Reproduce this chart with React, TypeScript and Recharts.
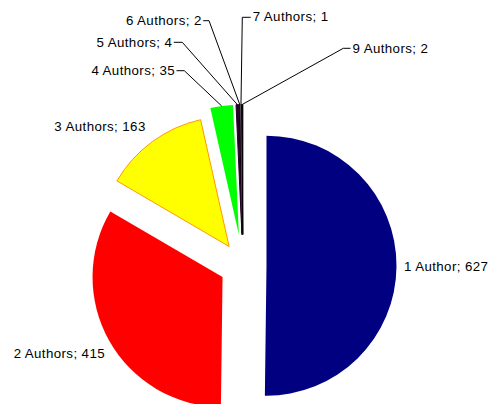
import React from 'react';
import { PieChart, Pie, Cell, Sector } from 'recharts';

const CATEGORIES = ['1 Author', '2 Authors', '3 Authors', '4 Authors', '5 Authors', '6 Authors', '7 Authors', '9 Authors'];
const VALUES = [627, 415, 163, 35, 4, 2, 1, 2];

const COLORS = ['#000080', '#ff0000', '#ffff00', '#00ff00', '#240026', '#140014', '#808080', '#000000'];
const STROKES = ['none', 'none', '#ff9900', 'none', '#240026', '#140014', '#808080', '#000000'];
const STROKE_WIDTHS = [1, 1, 1, 1, 1, 1, 0.5, 1];
// explode distance of each slice (px)
const EXPLODE = [23.5, 23.5, 23.5, 31, 31, 31, 31, 31];
// label placement relative to pie centre (text anchor point + optional leader knee)
const LABEL_LAYOUT = [
  { tx: 161, ty: 5.2, anchor: 'start' },
  { tx: -138, ty: 92.8, anchor: 'end' },
  { tx: -97.3, ty: -134.8, anchor: 'end' },
  { tx: -68, ty: -190.5, anchor: 'end', kx: -58.7, ky: -194.8 },
  { tx: -70.7, ty: -218.8, anchor: 'end', kx: -60.7, ky: -223.2 },
  { tx: -41.3, ty: -240.2, anchor: 'end', kx: -34, ky: -244.8 },
  { tx: 9.7, ty: -244.3, anchor: 'start', kx: -0.7, ky: -248.2 },
  { tx: 109.5, ty: -212.5, anchor: 'start', kx: 100.3, ky: -217.2 },
];

const data = CATEGORIES.map((name, i) => ({ name, value: VALUES[i] }));

const RADIAN = Math.PI / 180;
const CX = 243;
const CY = 265.5;
const R = 130;

const renderSlice = (props: any) => {
  const { cx, cy, midAngle, index } = props;
  const d = EXPLODE[index] ?? 0;
  const ox = cx + d * Math.cos(-midAngle * RADIAN);
  const oy = cy + d * Math.sin(-midAngle * RADIAN);
  return <Sector {...props} cx={ox} cy={oy} />;
};

const renderLabel = (props: any) => {
  const { cx, cy, midAngle, outerRadius, index } = props;
  const lay = LABEL_LAYOUT[index];
  const name = CATEGORIES[index];
  const value = VALUES[index];
  const d = EXPLODE[index] ?? 0;
  const cos = Math.cos(-midAngle * RADIAN);
  const sin = Math.sin(-midAngle * RADIAN);
  const sx = cx + (d + outerRadius) * cos;
  const sy = cy + (d + outerRadius) * sin;
  const tx = cx + lay.tx;
  const ty = cy + lay.ty;
  let line = null;
  if (lay.kx !== undefined) {
    const kx = cx + lay.kx;
    const ky = cy + lay.ky;
    const ex = lay.anchor === 'end' ? tx + 1.5 : tx - 2;
    line = (
      <polyline
        points={`${sx},${sy} ${kx},${ky} ${ex},${ky}`}
        fill="none"
        stroke="#000"
        strokeWidth={1}
      />
    );
  }
  return (
    <g key={`lbl-${index}`}>
      {line}
      <text
        x={tx}
        y={ty}
        textAnchor={lay.anchor}
        fill="#000"
        fontSize={13.3}
        letterSpacing={0.4}
        fontFamily="'Liberation Sans', Arial, sans-serif"
      >
        {`${name}; ${value}`}
      </text>
    </g>
  );
};

export default function App() {
  return (
    <div style={{ position: 'absolute', left: 0, top: 0, background: '#fff' }}>
      <PieChart width={490} height={404} margin={{ top: 0, right: 0, bottom: 0, left: 0 }}>
        <Pie
          data={data}
          dataKey="value"
          nameKey="name"
          cx={CX}
          cy={CY}
          innerRadius={0}
          outerRadius={R}
          startAngle={90}
          endAngle={-270}
          isAnimationActive={false}
          shape={renderSlice}
          label={renderLabel}
          labelLine={false}
        >
          {data.map((entry, i) => (
            <Cell key={entry.name} fill={COLORS[i]} stroke={STROKES[i]} strokeWidth={STROKE_WIDTHS[i]} />
          ))}
        </Pie>
      </PieChart>
    </div>
  );
}
